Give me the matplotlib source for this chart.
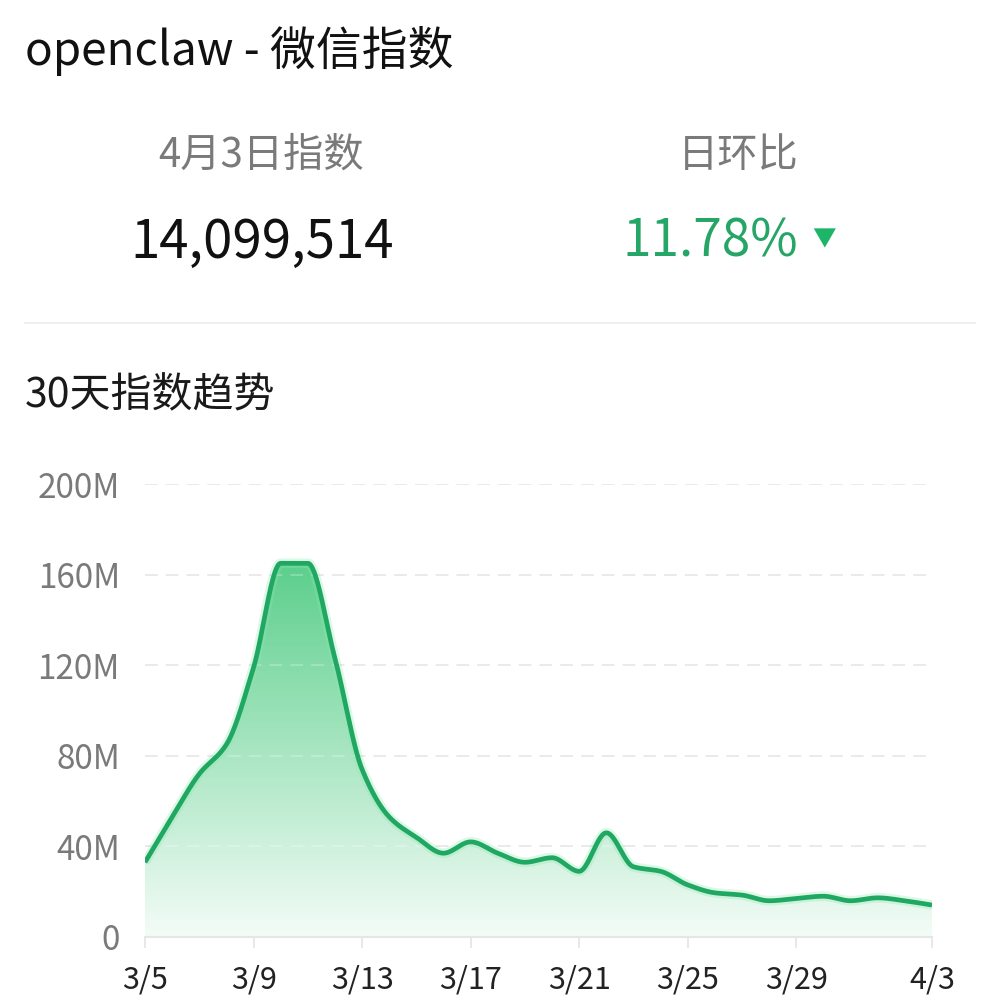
import numpy as np
import matplotlib
matplotlib.use("Agg")
import matplotlib.pyplot as plt
from matplotlib.colors import LinearSegmentedColormap
from matplotlib.patches import PathPatch
from matplotlib.path import Path

plt.rcParams['font.family'] = ['Noto Sans CJK SC', 'DejaVu Sans']

# 30-day WeChat index for "openclaw" (values in millions)
dates = ['3/5', '3/6', '3/7', '3/8', '3/9', '3/10', '3/11', '3/12', '3/13', '3/14',
         '3/15', '3/16', '3/17', '3/18', '3/19', '3/20', '3/21', '3/22', '3/23', '3/24',
         '3/25', '3/26', '3/27', '3/28', '3/29', '3/30', '3/31', '4/1', '4/2', '4/3']
values_m = [33, 53, 72, 85, 119, 165, 165, 123, 74, 53,
            44, 37, 42, 37, 33, 35, 29, 46, 31, 29,
            23, 19.5, 18.5, 16, 17, 18, 16, 17.3, 15.98, 14.0995]
tick_labels = ['3/5', '3/9', '3/13', '3/17', '3/21', '3/25', '3/29', '4/3']
y_ticks = [0, 40, 80, 120, 160, 200]
y_tick_labels = ['0', '40M', '80M', '120M', '160M', '200M']

title = 'openclaw - 微信指数'
latest_label = '4月3日指数'
latest_value = '14,099,514'
change_label = '日环比'
change_value = '11.78%'
section_title = '30天指数趋势'

GREEN = '#20A862'
W, H = 1001, 1002


def pchip(x, y, xs):
    """Monotone cubic Hermite interpolation for drawing a smooth line."""
    x = np.asarray(x, float)
    y = np.asarray(y, float)
    h = np.diff(x)
    delta = np.diff(y) / h
    n = len(x)
    d = np.zeros(n)
    for k in range(1, n - 1):
        if delta[k - 1] * delta[k] <= 0:
            d[k] = 0.0
        else:
            w1 = 2 * h[k] + h[k - 1]
            w2 = h[k] + 2 * h[k - 1]
            d[k] = (w1 + w2) / (w1 / delta[k - 1] + w2 / delta[k])
    d[0] = delta[0]
    d[-1] = delta[-1]
    idx = np.clip(np.searchsorted(x, xs) - 1, 0, n - 2)
    t = (xs - x[idx]) / h[idx]
    h00 = 2 * t**3 - 3 * t**2 + 1
    h10 = t**3 - 2 * t**2 + t
    h01 = -2 * t**3 + 3 * t**2
    h11 = t**3 - t**2
    return (h00 * y[idx] + h10 * h[idx] * d[idx]
            + h01 * y[idx + 1] + h11 * h[idx] * d[idx + 1])


fig = plt.figure(figsize=(W / 100, H / 100), dpi=100)
fig.patch.set_facecolor('white')


def fx(px):
    return px / W


def fy(py):
    return 1 - py / H


# Header texts
fig.text(fx(25), fy(51), title, fontsize=33, color='#111111', va='center', ha='left')
fig.text(fx(261), fy(155), latest_label, fontsize=29, color='#7a7a7a', va='center', ha='center')
fig.text(fx(738), fy(155), change_label, fontsize=29, color='#7a7a7a', va='center', ha='center')
fig.text(fx(262), fy(242), latest_value, fontsize=38, color='#111111', va='center', ha='center')
fig.text(fx(710), fy(242), change_value, fontsize=37, color='#25A566', va='center', ha='center')
fig.text(fx(824), fy(240), '▼', fontsize=17, color='#1DB567', va='center', ha='center')
fig.add_artist(plt.Line2D([fx(25), fx(975)], [fy(323), fy(323)], color='#ececec', lw=1.2))
fig.text(fx(25), fy(396), section_title, fontsize=29.5, color='#1a1a1a', va='center', ha='left',
         fontweight='medium')

# Chart area
ax = fig.add_axes([fx(145), fy(937), (932 - 145) / W, (937 - 484) / H])
ax.set_facecolor('none')
x = np.arange(len(values_m))
xs = np.linspace(0, len(values_m) - 1, 1200)
ys = pchip(x, values_m, xs)

ax.set_xlim(0, len(values_m) - 1)
ax.set_ylim(0, 200)

# Gradient fill under the curve, fading from green at the peak to near white
cmap = LinearSegmentedColormap.from_list('fade', ['#f4fcf7', '#5ccf8c'])
top = max(values_m)
grad = np.linspace(0, 1, 256).reshape(-1, 1)
img = ax.imshow(grad, extent=[0, len(values_m) - 1, 0, top], origin='lower',
                aspect='auto', cmap=cmap, vmin=0, vmax=1, zorder=1)
verts = np.column_stack([np.concatenate([[xs[0]], xs, [xs[-1]]]),
                         np.concatenate([[0], ys, [0]])])
clip = PathPatch(Path(verts), transform=ax.transData, facecolor='none', edgecolor='none')
ax.add_patch(clip)
img.set_clip_path(clip)

# Line with a soft glow
ax.plot(xs, ys, color='#8be8b2', lw=7, alpha=0.3, solid_capstyle='butt', zorder=3)
ax.plot(xs, ys, color=GREEN, lw=3.4, solid_capstyle='butt', zorder=4)

# Grid and axes
for v in y_ticks[1:]:
    ax.axhline(v, color='#e3e3e3', lw=1.3, dashes=(7, 4.5), zorder=0)
    ax.axhline(v, color='#ffffff', lw=1.3, dashes=(7, 4.5), alpha=0.25, zorder=2)
for s in ['top', 'right', 'left']:
    ax.spines[s].set_visible(False)
ax.spines['bottom'].set_color('#e6e6e6')
ax.spines['bottom'].set_linewidth(1.5)
ax.spines['bottom'].set_zorder(5)

tick_pos = [dates.index(t) for t in tick_labels]
ax.set_xticks(tick_pos)
ax.set_xticklabels(tick_labels, fontsize=22, color='#222222')
ax.tick_params(axis='x', length=8, width=1.3, color='#e6e6e6', pad=12)
ax.set_yticks(y_ticks)
ax.set_yticklabels(y_tick_labels, fontsize=24, color='#7a7a7a')
ax.tick_params(axis='y', length=0, pad=18)

fig.savefig('out.png', dpi=100, facecolor='white')
